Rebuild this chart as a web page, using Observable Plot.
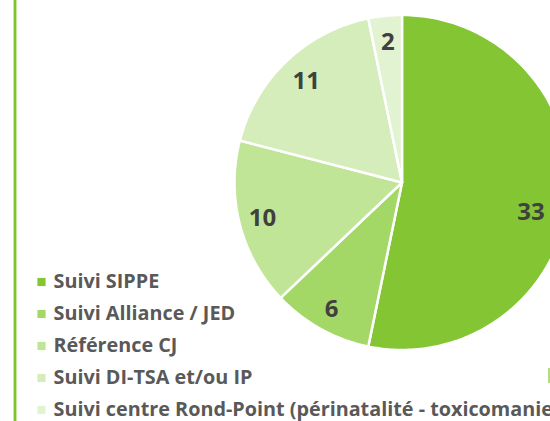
<!DOCTYPE html>
<html>
<head>
<meta charset="utf-8">
<script src="https://cdn.jsdelivr.net/npm/d3@7"></script>
<script src="https://cdn.jsdelivr.net/npm/@observablehq/plot@0.6"></script>
<style>
  html, body { margin: 0; padding: 0; background: #ffffff; overflow: hidden; }
  #chart svg { display: block; }
</style>
</head>
<body>
<div id="chart"></div>
<script>
// ---- data ----
const categories = [
  "Suivi SIPPE",
  "Suivi Alliance / JED",
  "Référence CJ",
  "Suivi DI-TSA et/ou IP",
  "Suivi centre Rond-Point (périnatalité - toxicomanie"
];
const values = [33, 6, 10, 11, 2];
const colors = ["#83c533", "#a3d866", "#c1e596", "#d4edbb", "#e2f3d2"];

// ---- layout (pixels) ----
const W = 550, H = 421;
const cx = 401.5, cy = 182, R = 167.5;
const labelRadius = [0.79, 0.866, 0.86, 0.83, 0.84];
const labelAngleShift = [7, 0, 0, 0, 0]; // degrees, "best fit" nudge
const legendX = 41, legendTextX = 53, legendY0 = 281.5, legendStep = 32;

const pie = d3.pie().sort(null).value(d => d.value);
const rows = categories.map((c, i) => ({category: c, value: values[i], index: i}));
const arcs = pie(rows);

// wedge outlines (center + arc sampled), computed from the pie angles
const wedgePts = [];
arcs.forEach(a => {
  const cat = a.data.category;
  wedgePts.push({category: cat, x: cx, y: cy});
  const n = Math.max(2, Math.ceil((a.endAngle - a.startAngle) / (Math.PI / 180)));
  for (let k = 0; k <= n; k++) {
    const t = a.startAngle + (a.endAngle - a.startAngle) * k / n;
    wedgePts.push({category: cat, x: cx + R * Math.sin(t), y: cy - R * Math.cos(t)});
  }
});

const labels = arcs.map((a, i) => {
  const t = (a.startAngle + a.endAngle) / 2 + labelAngleShift[i] * Math.PI / 180;
  const rr = R * labelRadius[i];
  return {x: cx + rr * Math.sin(t), y: cy - rr * Math.cos(t), text: String(a.data.value)};
});

const legend = rows.map((d, i) => ({category: d.category, y: legendY0 + i * legendStep}));

const chart = Plot.plot({
  width: W,
  height: H,
  margin: 0,
  x: {type: "identity", axis: null},
  y: {type: "identity", axis: null},
  color: {domain: categories, range: colors},
  style: {background: "#ffffff", fontFamily: "'Open Sans', sans-serif"},
  marks: [
    // left border line
    Plot.ruleX([14.5], {y1: 0, y2: H, stroke: "#c6e59e", strokeWidth: 4}),
    Plot.ruleX([14.5], {y1: 0, y2: H, stroke: "#7fc22e", strokeWidth: 2}),
    // small fragment at right edge
    Plot.ruleX([548.5], {y1: 368, y2: 383, stroke: "#9ccf5a", strokeWidth: 1.5}),
    // pie wedges
    Plot.line(wedgePts, {
      x: "x", y: "y", z: "category", fill: "category",
      stroke: "#ffffff", strokeWidth: 2.5, curve: "linear-closed", strokeLinejoin: "round"
    }),
    // data labels
    Plot.text(labels, {
      x: "x", y: "y", text: "text",
      fill: "#404040", fontSize: 24, fontWeight: "bold", fontFamily: "'Open Sans', sans-serif"
    }),
    // legend
    Plot.dot(legend, {
      x: () => legendX, y: "y", fill: "category", symbol: "square", r: 4.6, stroke: null
    }),
    Plot.text(legend, {
      x: () => legendTextX, y: "y", text: "category", textAnchor: "start",
      fill: "#595959", fontSize: 19.8, fontWeight: "bold", fontFamily: "'Open Sans', sans-serif"
    })
  ]
});
document.getElementById("chart").appendChild(chart);
</script>
</body>
</html>
